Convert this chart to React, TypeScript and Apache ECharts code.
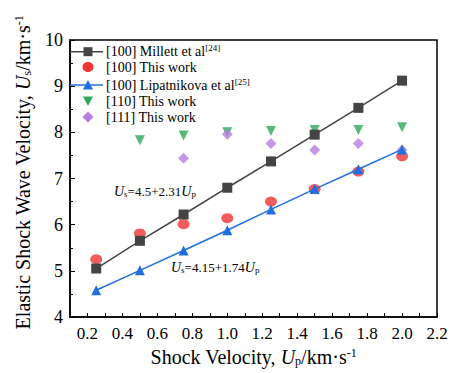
import React, { useEffect, useRef } from "react";
import * as echarts from "echarts";

const upValues = [0.25, 0.5, 0.75, 1.0, 1.25, 1.5, 1.75, 2.0];
const millett100 = [5.05, 5.65, 6.22, 6.8, 7.37, 7.95, 8.53, 9.12];
const thisWork100 = [5.25, 5.81, 6.01, 6.14, 6.5, 6.77, 7.15, 7.48];
const lipatnikova100 = [4.58, 5.01, 5.44, 5.88, 6.33, 6.77, 7.2, 7.63];
const up110 = [0.5, 0.75, 1.0, 1.25, 1.5, 1.75, 2.0];
const thisWork110 = [7.83, 7.93, 8.0, 8.03, 8.05, 8.05, 8.11];
const up111 = [0.75, 1.0, 1.25, 1.5, 1.75, 2.0];
const thisWork111 = [7.44, 7.96, 7.76, 7.62, 7.76, 7.62];

const seriesNames = [
  "[100] Millett et al",
  "[100] This work",
  "[100] Lipatnikova et al",
  "[110] This work",
  "[111] This work",
];
const legendRefs = ["[24]", "", "[25]", "", ""];
const seriesColors = ["#444444", "#ee3333", "#1f6fdf", "#2ea85a", "#b57de2"];

const FONT = "Liberation Serif";

const zip = (xs: number[], ys: number[]) => xs.map((x, i) => [x, ys[i]]);

function legendGraphics() {
  const rowsY = [51.7, 67, 85, 101, 117];
  const lineX0 = 70;
  const lineX1 = 103;
  const cx = 88;
  const items: any[] = [];
  rowsY.forEach((y, i) => {
    const color = seriesColors[i];
    if (i === 0 || i === 2) {
      items.push({
        type: "line",
        shape: { x1: lineX0, y1: y, x2: lineX1, y2: y },
        style: { stroke: color, lineWidth: 1.5 },
        z: 100,
      });
    }
    if (i === 0) {
      items.push({ type: "rect", shape: { x: cx - 4.5, y: y - 4.5, width: 9, height: 9 }, style: { fill: color }, z: 101 });
    } else if (i === 1) {
      items.push({ type: "ellipse", shape: { cx, cy: y, rx: 5.5, ry: 5 }, style: { fill: color }, z: 101 });
    } else if (i === 2) {
      items.push({
        type: "polygon",
        shape: { points: [[cx - 5, y + 4.5], [cx + 5, y + 4.5], [cx, y - 5]] },
        style: { fill: color },
        z: 101,
      });
    } else if (i === 3) {
      items.push({
        type: "polygon",
        shape: { points: [[cx - 5, y - 4.5], [cx + 5, y - 4.5], [cx, y + 5]] },
        style: { fill: color },
        z: 101,
      });
    } else {
      items.push({
        type: "polygon",
        shape: { points: [[cx, y - 5.5], [cx + 5.5, y], [cx, y + 5.5], [cx - 5.5, y]] },
        style: { fill: color },
        z: 101,
      });
    }
    const ref = legendRefs[i];
    items.push({
      type: "text",
      x: 106,
      y,
      z: 101,
      style: {
        text: ref ? `{n|${seriesNames[i]}}{sup|${ref}}` : `{n|${seriesNames[i]}}`,
        verticalAlign: "middle",
        align: "left",
        rich: {
          n: { fontFamily: FONT, fontSize: 14, lineHeight: 16, fill: "#000" },
          sup: { fontFamily: FONT, fontSize: 9, lineHeight: 16, verticalAlign: "top", fill: "#000" },
        },
      },
    });
  });
  return items;
}

export default function App() {
  const ref = useRef<HTMLDivElement>(null);
  useEffect(() => {
    if (!ref.current) return;
    const chart = echarts.init(ref.current, undefined, { renderer: "svg" });
    const richBase = {
      n: { fontFamily: FONT, fontSize: 20, color: "#000" },
      i: { fontFamily: FONT, fontStyle: "italic", fontSize: 20, color: "#000" },
      sub: { fontFamily: FONT, fontSize: 12, verticalAlign: "bottom", color: "#000", padding: [7, 0, 0, 0] },
      sup: { fontFamily: FONT, fontSize: 12, verticalAlign: "top", color: "#000" },
    };
    chart.setOption({
      animation: false,
      backgroundColor: "#fff",
      textStyle: { fontFamily: FONT },
      grid: {
        left: 70,
        right: 14,
        top: 40,
        bottom: 56,
        show: true,
        borderColor: "#000",
        borderWidth: 1.5,
        outerBoundsMode: "none",
      },
      xAxis: {
        type: "value",
        min: 0.1,
        max: 2.2,
        interval: 0.1,
        name: "{n|Shock Velocity, }{i|U}{sub|p}{n|/km·s}{sup|-1}",
        nameLocation: "middle",
        nameGap: 28,
        nameTextStyle: { fontFamily: FONT, fontSize: 20, color: "#000", rich: richBase },
        axisLine: { show: true, lineStyle: { color: "#000", width: 1.5 } },
        axisTick: { show: true, inside: true, length: 4, lineStyle: { color: "#000", width: 1 } },
        axisLabel: {
          fontFamily: FONT,
          fontSize: 17,
          color: "#000",
          margin: 8,
          showMinLabel: true,
          showMaxLabel: true,
          formatter: (v: number) => (Math.round(v * 10) % 2 === 0 ? v.toFixed(1) : ""),
        },
        splitLine: { show: false },
      },
      yAxis: {
        type: "value",
        min: 4,
        max: 10,
        interval: 1,
        name: "{n|Elastic Shock Wave Velocity, }{i|U}{sub|s}{n|/km·s}{sup|-1}",
        nameLocation: "middle",
        nameRotate: 90,
        nameGap: 37,
        nameTextStyle: { fontFamily: FONT, fontSize: 20, color: "#000", rich: richBase, padding: [0, 0, 0, 12] },
        axisLine: { show: true, lineStyle: { color: "#000", width: 1.5 } },
        axisTick: { show: true, inside: true, length: 5, lineStyle: { color: "#000", width: 1 } },
        minorTick: { show: true, splitNumber: 2, length: 3, lineStyle: { color: "#000", width: 1 } },
        axisLabel: { fontFamily: FONT, fontSize: 18, color: "#000", margin: 7 },
        splitLine: { show: false },
      },
      series: [
        {
          name: seriesNames[0],
          type: "line",
          data: zip(upValues, millett100),
          symbol: "rect",
          symbolSize: 10,
          itemStyle: { color: seriesColors[0] },
          lineStyle: { color: seriesColors[0], width: 1.5 },
          z: 3,
        },
        {
          name: seriesNames[1],
          type: "scatter",
          data: zip(upValues, thisWork100),
          symbol: "circle",
          symbolSize: [12, 10],
          itemStyle: { color: seriesColors[1] },
          z: 2,
        },
        {
          name: seriesNames[2],
          type: "line",
          data: zip(upValues, lipatnikova100),
          symbol: "triangle",
          symbolSize: 10,
          itemStyle: { color: seriesColors[2] },
          lineStyle: { color: seriesColors[2], width: 1.5 },
          z: 3,
        },
        {
          name: seriesNames[3],
          type: "scatter",
          data: zip(up110, thisWork110),
          symbol: "triangle",
          symbolRotate: 180,
          symbolSize: 10,
          itemStyle: { color: seriesColors[3] },
          z: 2,
        },
        {
          name: seriesNames[4],
          type: "scatter",
          data: zip(up111, thisWork111),
          symbol: "diamond",
          symbolSize: 11,
          itemStyle: { color: seriesColors[4] },
          z: 2,
        },
      ],
      graphic: [
        ...legendGraphics(),
        {
          type: "text",
          left: 114,
          top: 184,
          style: {
            text: "{i|U}{sub|s}{n|=4.5+2.31}{i|U}{sub|p}",
            rich: {
              n: { fontFamily: FONT, fontSize: 13, color: "#222" },
              i: { fontFamily: FONT, fontStyle: "italic", fontSize: 14, color: "#222" },
              sub: { fontFamily: FONT, fontSize: 9, verticalAlign: "bottom", color: "#222", padding: [5, 0, 0, 0] },
            },
          },
        },
        {
          type: "text",
          left: 171,
          top: 260,
          style: {
            text: "{i|U}{sub|s}{n|=4.15+1.74}{i|U}{sub|p}",
            rich: {
              n: { fontFamily: FONT, fontSize: 13, color: "#3535e0" },
              i: { fontFamily: FONT, fontStyle: "italic", fontSize: 14, color: "#3535e0" },
              sub: { fontFamily: FONT, fontSize: 9, verticalAlign: "bottom", color: "#3535e0", padding: [5, 0, 0, 0] },
            },
          },
        },
      ],
    });
    return () => chart.dispose();
  }, []);
  return <div ref={ref} style={{ width: 451, height: 373, position: "absolute", left: 0, top: 0 }} />;
}
